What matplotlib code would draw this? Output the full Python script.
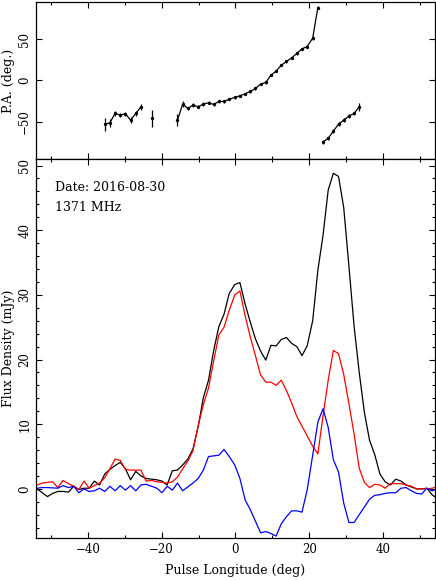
import numpy as np
import matplotlib.pyplot as plt
from matplotlib.ticker import MultipleLocator, FuncFormatter

plt.rcParams['font.family'] = ['DejaVu Serif']

# pulse longitude of each profile bin (deg)
lon = [-55.1, -53.7, -52.3, -50.9, -49.5, -48.1, -46.7, -45.2, -43.8, -42.4,
       -41.0, -39.6, -38.2, -36.8, -35.4, -34.0, -32.6, -31.2, -29.8, -28.4,
       -27.0, -25.6, -24.2, -22.7, -21.3, -19.9, -18.5, -17.1, -15.7, -14.3,
       -12.9, -11.5, -10.1, -8.7, -7.3, -5.9, -4.5, -3.1, -1.7, -0.2,
       1.2, 2.6, 4.0, 5.4, 6.8, 8.2, 9.6, 11.0, 12.4, 13.8,
       15.2, 16.6, 18.0, 19.4, 20.9, 22.3, 23.7, 25.1, 26.5, 27.9,
       29.3, 30.7, 32.1, 33.5, 34.9, 36.3, 37.7, 39.1, 40.5, 41.9,
       43.4, 44.8, 46.2, 47.6, 49.0, 50.4, 51.8, 53.2, 54.6]

# total intensity (mJy)
total_i = [0.5, 0.0, -0.6, -1.2, -0.7, -0.4, -0.4, -0.5, 0.4, -0.1,
           0.1, 0.1, 1.2, 0.6, 2.3, 3.0, 3.6, 4.1, 3.1, 1.4,
           2.7, 2.0, 1.6, 1.5, 1.4, 1.2, 0.6, 2.8, 2.9, 3.7,
           4.6, 6.2, 9.6, 14.1, 16.8, 21.4, 25.1, 27.0, 30.2, 31.6,
           31.9, 28.6, 25.8, 23.2, 21.3, 19.9, 22.2, 22.1, 23.1, 23.4,
           22.5, 22.0, 20.6, 22.1, 26.0, 33.8, 39.2, 46.2, 48.8, 48.3,
           43.5, 34.5, 25.2, 18.0, 11.8, 7.5, 5.3, 2.3, 1.1, 0.6,
           1.5, 1.2, 0.6, 0.3, 0.0, 0.0, 0.1, -0.9, -1.5]

# linear polarisation (mJy)
linear = [0.2, 0.6, 0.9, 1.0, 1.1, 0.2, 1.3, 0.8, 0.4, -0.1,
          1.2, 0.1, 0.5, 0.9, 1.7, 3.1, 4.6, 4.4, 3.0, 2.9,
          2.9, 2.9, 1.2, 1.3, 1.1, 1.0, 0.9, 1.1, 1.8, 3.1,
          4.3, 5.9, 9.8, 13.0, 15.6, 19.8, 23.8, 25.0, 27.6, 30.0,
          30.6, 26.8, 23.5, 20.6, 17.6, 16.5, 16.5, 16.0, 16.8, 15.2,
          13.3, 11.2, 9.7, 8.2, 6.6, 5.4, 11.3, 16.8, 21.4, 20.9,
          17.7, 13.2, 8.5, 3.2, 1.0, 0.2, 0.7, 0.6, 0.1, 0.8,
          0.8, 0.8, 0.6, 0.4, 0.0, 0.0, 0.0, 0.1, 0.3]

# circular polarisation (mJy)
circular = [0.1, 0.1, 0.2, 0.2, 0.15, 0.1, 0.5, 0.2, 0.4, -0.6,
            0.0, -0.4, -0.3, 0.1, -0.4, 0.4, -0.3, 0.5, -0.2, 0.5,
            -0.3, 0.6, 0.7, 0.4, 0.1, -0.6, 0.4, -0.2, 0.9, -0.3,
            0.3, 0.9, 1.6, 2.9, 5.0, 5.1, 5.2, 6.1, 5.0, 3.7,
            1.6, -1.7, -3.2, -5.0, -6.8, -6.6, -6.9, -7.3, -5.4, -4.3,
            -3.4, -3.4, -3.6, -0.2, 5.2, 10.3, 12.4, 9.5, 4.5, 2.6,
            -2.2, -5.2, -5.2, -4.0, -2.8, -1.6, -1.0, -0.9, -0.7, -0.6,
            -0.6, 0.1, 0.2, -0.3, -0.7, -0.8, 0.1, -0.3, -0.05]

# position angle points
pa_lon = [-35.4, -34.0, -32.6, -31.2, -29.8, -28.4, -27.0, -25.6,
          -22.7,
          -15.7, -14.3, -12.9, -11.5, -10.1, -8.7, -7.3, -5.9, -4.5, -3.1,
          -1.7, -0.2, 1.2, 2.6, 4.0, 5.4, 6.8, 8.2, 9.6, 11.0,
          12.4, 13.8, 15.2, 16.6, 18.0, 19.4, 20.9, 22.3,
          23.7, 25.1, 26.5, 27.9, 29.3, 30.7, 32.1, 33.5]
pa_deg = [-53.2, -51.2, -39.9, -41.9, -40.3, -48.0, -39.9, -31.9,
          -46.0,
          -48.0, -28.6, -33.9, -29.8, -31.9, -28.6, -27.0, -29.0, -25.4, -25.4,
          -22.6, -20.6, -18.5, -16.1, -13.3, -9.7, -4.4, -2.4, 6.5, 11.3,
          18.5, 23.0, 27.4, 32.7, 38.3, 41.1, 51.2, 88.3,
          -74.6, -69.8, -61.3, -52.8, -48.0, -43.1, -39.9, -31.9]
pa_err = [8, 5, 2.5, 2.5, 2.5, 4, 3, 4,
          10,
          7, 4, 2, 2, 2, 2, 2, 2, 2, 2,
          1.5, 1.5, 1.5, 1.5, 1.5, 1.5, 1.5, 1.5, 1.5, 1.5,
          1.5, 1.5, 1.5, 1.5, 1.5, 1.5, 2, 2,
          2, 2, 2, 2, 2, 2, 2, 5]
# index where each connected PA segment starts
pa_breaks = [0, 8, 9, 37, 45]

xmin, xmax = -54, 54


def minus_fmt(v, pos):
    return f'{v:g}'.replace('-', '\u2212')


def style_axes(ax):
    ax.tick_params(which='both', direction='in', top=True, right=True,
                   width=0.8, labelsize=8.5)
    ax.tick_params(which='major', length=4.5)
    ax.tick_params(which='minor', length=2.2)
    for s in ax.spines.values():
        s.set_linewidth(0.9)
    for lab in ax.get_yticklabels():
        lab.set_rotation(90)
        lab.set_va('center')


fig = plt.figure(figsize=(4.36, 5.8), dpi=100)
ax_pa = fig.add_axes([0.0826, 0.7259, 0.915, 0.2707])
ax = fig.add_axes([0.0826, 0.0724, 0.915, 0.6534])

# PA panel
for a, b in zip(pa_breaks[:-1], pa_breaks[1:]):
    ax_pa.errorbar(pa_lon[a:b], pa_deg[a:b], yerr=pa_err[a:b], fmt='o-',
                   color='k', ms=2.4, mew=0, lw=0.9, elinewidth=0.9,
                   capsize=0)
ax_pa.set_xlim(xmin, xmax)
ax_pa.set_ylim(-95, 95)
ax_pa.xaxis.set_major_locator(MultipleLocator(20))
ax_pa.xaxis.set_minor_locator(MultipleLocator(10))
ax_pa.yaxis.set_major_locator(MultipleLocator(50))
ax_pa.yaxis.set_major_formatter(FuncFormatter(minus_fmt))
ax_pa.set_xticklabels([])
ax_pa.set_ylabel('P.A. (deg.)', fontsize=9, labelpad=2)
style_axes(ax_pa)

# profile panel
ax.plot(lon, total_i, color='k', lw=0.9)
ax.plot(lon, linear, color='#ff0000', lw=0.9)
ax.plot(lon, circular, color='#0000ff', lw=0.9)
ax.set_xlim(xmin, xmax)
ax.set_ylim(-7.6, 51)
ax.xaxis.set_major_locator(MultipleLocator(20))
ax.xaxis.set_minor_locator(MultipleLocator(10))
ax.yaxis.set_major_locator(MultipleLocator(10))
ax.yaxis.set_minor_locator(MultipleLocator(2))
ax.xaxis.set_major_formatter(FuncFormatter(minus_fmt))
ax.yaxis.set_major_formatter(FuncFormatter(minus_fmt))
ax.set_xlabel('Pulse Longitude (deg)', fontsize=9, labelpad=6)
ax.set_ylabel('Flux Density (mJy)', fontsize=9, labelpad=2)
style_axes(ax)

ax.text(0.048, 0.925, 'Date: 2016-08-30', transform=ax.transAxes, fontsize=9,
        va='center', ha='left')
ax.text(0.048, 0.872, '1371 MHz', transform=ax.transAxes, fontsize=9,
        va='center', ha='left')

fig.savefig('out.png', dpi=100)
